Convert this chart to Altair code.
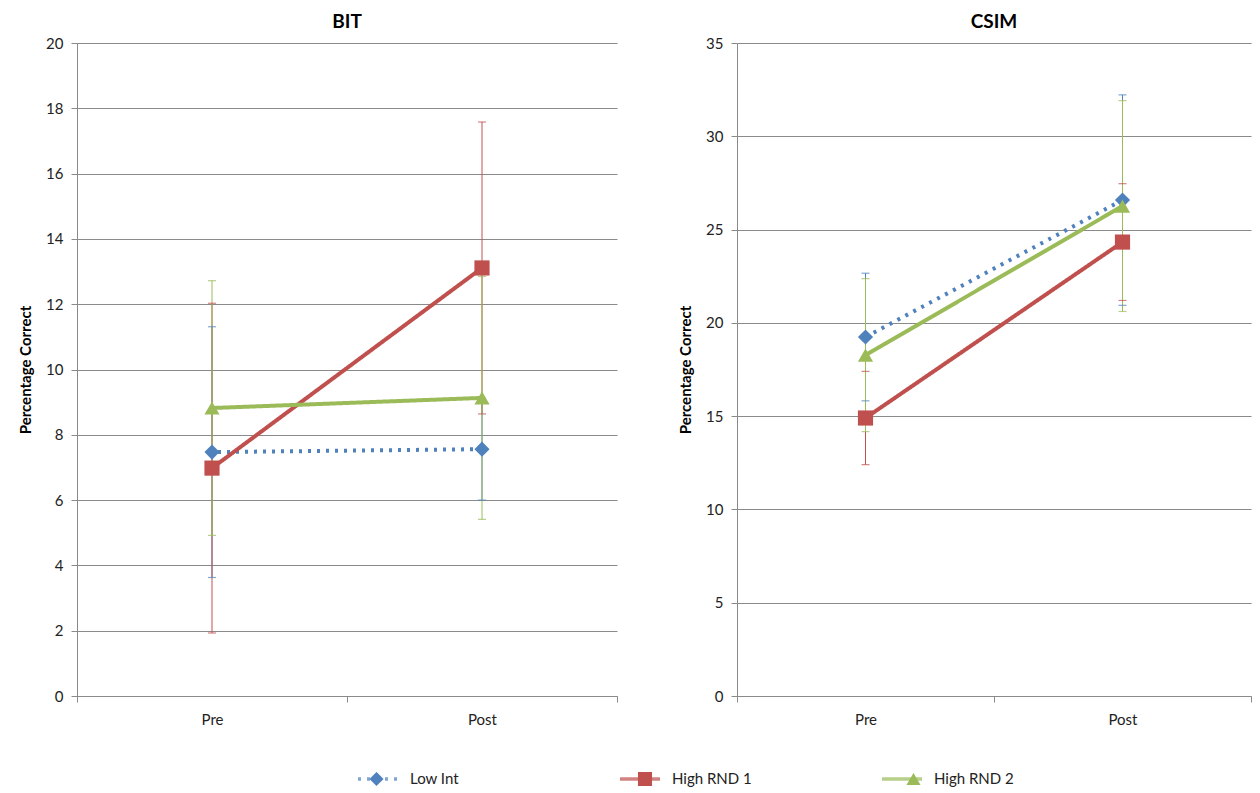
import altair as alt
import pandas as pd

categories = ["Pre", "Post"]
series_names = ["Low Int", "High RND 1", "High RND 2"]
colors = ["#4F81BD", "#C0504D", "#9BBB59"]
shapes = ["diamond", "square", "triangle-up"]

bit_low_int = [7.47, 7.56]
bit_high_rnd1 = [6.98, 13.11]
bit_high_rnd2 = [8.82, 9.13]
bit_err_low_int = [3.84, 1.56]
bit_err_high_rnd1 = [5.05, 4.47]
bit_err_high_rnd2 = [3.90, 3.72]

csim_low_int = [19.24, 26.58]
csim_high_rnd1 = [14.90, 24.33]
csim_high_rnd2 = [18.27, 26.26]
csim_err_low_int = [3.42, 5.64]
csim_err_high_rnd1 = [2.50, 3.13]
csim_err_high_rnd2 = [4.10, 5.65]

# marker layer uses its own copy of the series names so its legend stays separate
marker_names = [s + " " for s in series_names]

rows = []
for test, means, errs in [
    ("BIT", [bit_low_int, bit_high_rnd1, bit_high_rnd2],
     [bit_err_low_int, bit_err_high_rnd1, bit_err_high_rnd2]),
    ("CSIM", [csim_low_int, csim_high_rnd1, csim_high_rnd2],
     [csim_err_low_int, csim_err_high_rnd1, csim_err_high_rnd2]),
]:
    for s, sp, m, e in zip(series_names, marker_names, means, errs):
        for c, mv, ev in zip(categories, m, e):
            rows.append({"test": test, "phase": c, "series": s, "series_p": sp,
                         "mean": mv, "lo": mv - ev, "hi": mv + ev})
df = pd.DataFrame(rows)

FONT = "Lato"
GRID = "#8a8a8a"

color_scale = alt.Scale(domain=series_names, range=colors)
dash_scale = alt.Scale(domain=series_names, range=[[3, 6], [1, 0], [1, 0]])
fill_scale = alt.Scale(domain=marker_names, range=colors)
shape_scale = alt.Scale(domain=marker_names, range=shapes)

# legend coordinates are relative to the first panel's plot origin
ORIGIN_X, ORIGIN_Y = 76, 42
LEG_X = 355 - ORIGIN_X
LEG_CY = 778 - ORIGIN_Y
COL_PAD = 128
line_legend = alt.Legend(
    title=None, orient="none", legendX=LEG_X, legendY=LEG_CY - 8,
    direction="horizontal", symbolType="stroke", symbolSize=1600, clipHeight=16,
    symbolStrokeWidth=3.5, labelOffset=10, gridAlign="all", columnPadding=COL_PAD,
    labelFont=FONT, labelFontSize=15, labelColor="#222",
)
# marker-only legend laid over the line legend (no text of its own)
point_legend = alt.Legend(
    title=None, orient="none", legendX=LEG_X + 13, legendY=LEG_CY - 7,
    direction="horizontal", symbolSize=200, symbolStrokeWidth=0, labelOffset=0,
    labelExpr="''", gridAlign="all", columnPadding=253.5, labelFont=FONT,
    labelFontSize=15, symbolOpacity=1, clipHeight=14,
)


def panel(test, ymax, ystep, width):
    base = alt.Chart(df[df.test == test])
    x = alt.X(
        "phase:N", sort=categories,
        scale=alt.Scale(type="band", paddingInner=0, paddingOuter=0),
        axis=alt.Axis(title=None, labelAngle=0, tickBand="extent", grid=False,
                      domainColor=GRID, tickColor=GRID, tickSize=6, labelPadding=10,
                      labelFont=FONT, labelFontSize=15, labelColor="#222"),
    )
    y_axis = alt.Axis(
        values=list(range(0, ymax + 1, ystep)), title="Percentage Correct",
        titleFont=FONT, titleFontSize=15, titleFontWeight="bold", titleColor="#000",
        titlePadding=12, labelFont=FONT, labelFontSize=15, labelColor="#222",
        labelPadding=8, grid=True, gridColor=GRID, domainColor=GRID,
        tickColor=GRID, tickSize=6,
    )
    y = alt.Y("mean:Q", scale=alt.Scale(domain=[0, ymax], nice=False), axis=y_axis)

    rules = base.mark_rule(strokeWidth=1).encode(
        x=x, y=alt.Y("lo:Q", scale=alt.Scale(domain=[0, ymax], nice=False), axis=y_axis),
        y2="hi:Q",
        color=alt.Color("series:N", scale=color_scale, legend=line_legend),
    )
    caps_hi = base.mark_tick(size=8, thickness=1.2).encode(
        x=x, y="hi:Q", color=alt.Color("series:N", scale=color_scale, legend=line_legend))
    caps_lo = base.mark_tick(size=8, thickness=1.2).encode(
        x=x, y="lo:Q", color=alt.Color("series:N", scale=color_scale, legend=line_legend))
    lines = base.mark_line(strokeWidth=4).encode(
        x=x, y=y,
        color=alt.Color("series:N", scale=color_scale, legend=line_legend),
        strokeDash=alt.StrokeDash("series:N", scale=dash_scale, legend=line_legend),
        order=alt.Order("phase:N"),
    )
    points = base.mark_point(filled=True, opacity=1, size=230, strokeWidth=0).encode(
        x=x, y=y,
        fill=alt.Fill("series_p:N", scale=fill_scale, legend=point_legend),
        shape=alt.Shape("series_p:N", scale=shape_scale, legend=point_legend),
    )
    return alt.layer(rules, caps_hi, caps_lo, lines, points).properties(
        width=width, height=653,
        title=alt.TitleParams(test, font=FONT, fontSize=19, fontWeight="bold",
                              color="#000", anchor="middle"),
    )


chart = alt.hconcat(
    panel("BIT", 20, 2, 540),
    panel("CSIM", 35, 5, 514),
    spacing=60,
).properties(padding={"left": 10, "top": 5, "right": 0, "bottom": 0}).configure_view(stroke=None)

chart.save("out.html", embed_options={"renderer": "svg", "actions": False})
